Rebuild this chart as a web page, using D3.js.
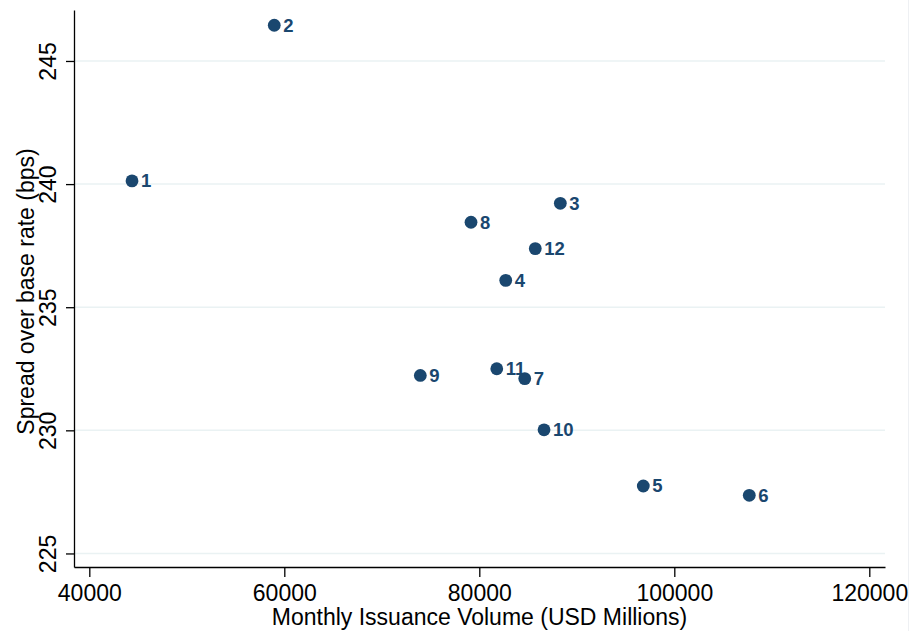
<!DOCTYPE html>
<html>
<head>
<meta charset="utf-8">
<script src="https://cdn.jsdelivr.net/npm/d3@7"></script>
<style>
  body { margin: 0; background: #fff; }
  svg { display: block; font-family: "Liberation Sans", Arial, sans-serif; }
</style>
</head>
<body>
<div id="chart"></div>
<script>
// month labels, issuance volume (USD millions), spread (bps)
const months = ['1', '2', '3', '4', '5', '6', '7', '8', '9', '10', '11', '12'];
const volume = [44380, 58970, 88310, 82710, 96820, 107690, 84660, 79150, 73950, 86640, 81790, 85740];
const spread = [240.13, 246.45, 239.22, 236.09, 227.74, 227.36, 232.10, 238.45, 232.23, 230.02, 232.50, 237.38];

const xTicks = [40000, 60000, 80000, 100000, 120000];
const yTicks = [225, 230, 235, 240, 245];

const width = 913, height = 631;
const margin = { top: 10, right: 28, bottom: 64, left: 74 };
const navy = '#1a476f';

const svg = d3.select('#chart').append('svg')
  .attr('width', width)
  .attr('height', height);

const x = d3.scaleLinear()
  .domain([38430, 121610])
  .range([margin.left, width - margin.right]);

const y = d3.scaleLinear()
  .domain([224.45, 247.07])
  .range([height - margin.bottom, margin.top]);

// faint outer border on the right
svg.append('line')
  .attr('x1', 908.5).attr('x2', 908.5)
  .attr('y1', 0).attr('y2', height)
  .attr('stroke', '#eef0f3')
  .attr('stroke-width', 1);

// gridlines
svg.append('g')
  .selectAll('line')
  .data(yTicks)
  .join('line')
  .attr('x1', margin.left)
  .attr('x2', width - margin.right)
  .attr('y1', d => y(d))
  .attr('y2', d => y(d))
  .attr('stroke', '#eaf2f3')
  .attr('stroke-width', 1.5);

// X axis
const xAxis = svg.append('g')
  .attr('transform', `translate(0,${height - margin.bottom})`)
  .call(d3.axisBottom(x).tickValues(xTicks).tickFormat(d3.format('d')).tickSize(10).tickPadding(8).tickSizeOuter(0));
xAxis.select('.domain').attr('stroke', '#000').attr('stroke-width', 1.3);
xAxis.selectAll('.tick line').attr('stroke', '#000').attr('stroke-width', 1.3);
xAxis.selectAll('.tick text')
  .attr('font-size', '23px')
  .attr('font-family', '"Liberation Sans", Arial, sans-serif')
  .attr('fill', '#000');

// Y axis
const yAxis = svg.append('g')
  .attr('transform', `translate(${margin.left},0)`)
  .call(d3.axisLeft(y).tickValues(yTicks).tickSize(8).tickSizeOuter(0));
yAxis.select('.domain').attr('stroke', '#000').attr('stroke-width', 1.3);
yAxis.selectAll('.tick line').attr('stroke', '#000').attr('stroke-width', 1.3);
yAxis.selectAll('.tick text')
  .attr('font-size', '23px')
  .attr('font-family', '"Liberation Sans", Arial, sans-serif')
  .attr('fill', '#000')
  .attr('text-anchor', 'middle')
  .attr('x', 0).attr('dy', 0)
  .attr('transform', 'translate(-18,0) rotate(-90)');

// Points
const pts = months.map((m, i) => ({ m, v: volume[i], s: spread[i] }));

svg.append('g')
  .selectAll('circle')
  .data(pts)
  .join('circle')
  .attr('cx', d => x(d.v))
  .attr('cy', d => y(d.s))
  .attr('r', 6.4)
  .attr('fill', navy);

svg.append('g')
  .selectAll('text')
  .data(pts)
  .join('text')
  .attr('x', d => x(d.v) + 9)
  .attr('y', d => y(d.s) + 6.5)
  .attr('font-size', '18.5px')
  .attr('font-weight', 'bold')
  .attr('fill', navy)
  .text(d => d.m);

// Axis titles
svg.append('text')
  .attr('x', (margin.left + width - margin.right) / 2)
  .attr('y', 625)
  .attr('text-anchor', 'middle')
  .attr('font-size', '23px')
  .text('Monthly Issuance Volume (USD Millions)');

svg.append('text')
  .attr('transform', `translate(34,${(margin.top + height - margin.bottom) / 2 + 3}) rotate(-90)`)
  .attr('text-anchor', 'middle')
  .attr('font-size', '23px')
  .text('Spread over base rate (bps)');
</script>
</body>
</html>
